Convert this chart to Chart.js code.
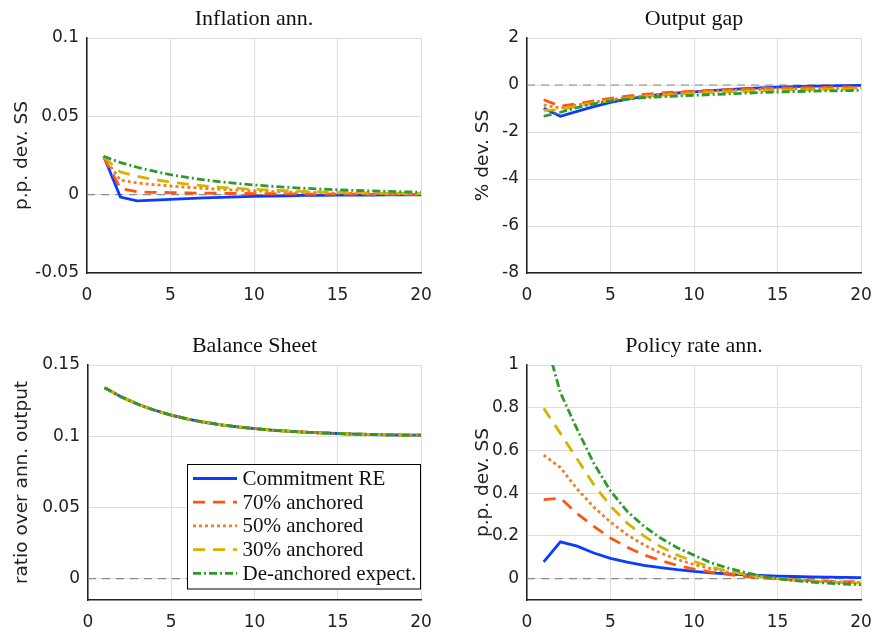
<!DOCTYPE html>
<html>
<head>
<meta charset="utf-8">
<script src="https://cdn.jsdelivr.net/npm/chart.js@4.4.1/dist/chart.umd.min.js"></script>
<style>
  html, body { margin: 0; padding: 0; background: #fff; }
  #wrap { position: relative; width: 875px; height: 630px; overflow: hidden; }
  canvas { position: absolute; }
</style>
</head>
<body>
<div id="wrap">
  <canvas id="cInfl" width="437" height="315" style="left:0;top:0"></canvas>
  <canvas id="cGap" width="410" height="315" style="left:465px;top:0"></canvas>
  <canvas id="cBs" width="437" height="315" style="left:0;top:315px"></canvas>
  <canvas id="cRate" width="410" height="315" style="left:465px;top:315px"></canvas>
</div>
<script>
// quarters after the shock
const periods = [1, 2, 3, 4, 5, 6, 7, 8, 9, 10, 11, 12, 13, 14, 15, 16, 17, 18, 19, 20];

const seriesNames = ["Commitment RE", "70% anchored", "50% anchored", "30% anchored", "De-anchored expect."];

// Inflation ann. (p.p. dev. SS)
const inflRE   = [0.0245, -0.0015, -0.004, -0.0035, -0.003, -0.0025, -0.002, -0.0017, -0.0014, -0.0011, -0.0009, -0.0007, -0.0005, -0.0004, -0.0003, -0.0002, -0.0002, -0.0001, -0.0001, -0.0001];
const infl70   = [0.024, 0.004, 0.0018, 0.0015, 0.0013, 0.0011, 0.001, 0.0009, 0.0008, 0.0007, 0.0006, 0.0005, 0.0004, 0.0004, 0.0003, 0.0003, 0.0002, 0.0002, 0.0002, 0.0001];
const infl50   = [0.024, 0.0092, 0.0075, 0.0064, 0.0055, 0.0047, 0.004, 0.0034, 0.0029, 0.0024, 0.002, 0.0017, 0.0014, 0.0012, 0.001, 0.0008, 0.0007, 0.0006, 0.0005, 0.0004];
const infl30   = [0.024, 0.0145, 0.0118, 0.0097, 0.008, 0.0067, 0.0056, 0.0047, 0.004, 0.0034, 0.0029, 0.0025, 0.0021, 0.0018, 0.0015, 0.0013, 0.0011, 0.0009, 0.0008, 0.0007];
const inflDe   = [0.0245, 0.0205, 0.0175, 0.015, 0.0128, 0.011, 0.0095, 0.0082, 0.0071, 0.0062, 0.0054, 0.0047, 0.0041, 0.0036, 0.0031, 0.0027, 0.0024, 0.0021, 0.0018, 0.0016];

// Output gap (% dev. SS)
const gapRE    = [-0.99, -1.33, -1.12, -0.92, -0.74, -0.6, -0.49, -0.4, -0.34, -0.29, -0.24, -0.2, -0.16, -0.12, -0.09, -0.07, -0.05, -0.04, -0.03, -0.02];
const gap70    = [-0.63, -0.9, -0.8, -0.68, -0.57, -0.47, -0.4, -0.34, -0.3, -0.26, -0.23, -0.2, -0.17, -0.15, -0.13, -0.12, -0.11, -0.1, -0.095, -0.09];
const gap50    = [-0.85, -0.98, -0.85, -0.73, -0.62, -0.53, -0.46, -0.4, -0.35, -0.31, -0.27, -0.24, -0.21, -0.19, -0.17, -0.16, -0.15, -0.14, -0.13, -0.12];
const gap30    = [-1.08, -1.05, -0.9, -0.77, -0.66, -0.57, -0.5, -0.44, -0.4, -0.36, -0.32, -0.29, -0.27, -0.25, -0.23, -0.21, -0.2, -0.19, -0.18, -0.17];
const gapDe    = [-1.33, -1.16, -0.96, -0.8, -0.68, -0.6, -0.54, -0.5, -0.47, -0.44, -0.41, -0.38, -0.35, -0.32, -0.3, -0.28, -0.26, -0.25, -0.24, -0.23];

// Balance Sheet (ratio over ann. output) - the five scenarios coincide
const bsAll    = [0.134, 0.1276, 0.1224, 0.1182, 0.1148, 0.112, 0.1098, 0.108, 0.1065, 0.1053, 0.1043, 0.1035, 0.1028, 0.1023, 0.1019, 0.1015, 0.1012, 0.101, 0.1008, 0.1007];

// Policy rate ann. (p.p. dev. SS)
const rateRE   = [0.078, 0.172, 0.152, 0.12, 0.095, 0.077, 0.0625, 0.052, 0.042, 0.034, 0.027, 0.022, 0.018, 0.015, 0.012, 0.01, 0.008, 0.007, 0.006, 0.005];
const rate70   = [0.37, 0.377, 0.305, 0.245, 0.19, 0.147, 0.111, 0.085, 0.062, 0.045, 0.031, 0.02, 0.011, 0.004, -0.002, -0.006, -0.009, -0.012, -0.014, -0.015];
const rate50   = [0.578, 0.52, 0.42, 0.335, 0.265, 0.205, 0.158, 0.12, 0.09, 0.066, 0.047, 0.031, 0.019, 0.009, 0.001, -0.005, -0.01, -0.013, -0.016, -0.018];
const rate30   = [0.797, 0.68, 0.56, 0.44, 0.34, 0.26, 0.2, 0.15, 0.11, 0.08, 0.055, 0.036, 0.021, 0.009, 0.0, -0.007, -0.012, -0.016, -0.019, -0.021];
const rateDe   = [1.15, 0.87, 0.7, 0.54, 0.41, 0.315, 0.245, 0.19, 0.145, 0.11, 0.075, 0.05, 0.03, 0.013, 0.0, -0.009, -0.016, -0.021, -0.025, -0.028];

const STYLES = [
    { color: "#0a3cff", dash: [] },
    { color: "#ff5511", dash: [12, 8] },
    { color: "#ee8020", dash: [3, 3] },
    { color: "#d6b300", dash: [12, 8] },
    { color: "#2e9a2e", dash: [8, 3, 2, 3] },
];

const SANS = '"DejaVu Sans", "Liberation Sans", sans-serif';
const SERIF = '"Liberation Serif", "Times New Roman", serif';

function makeDatasets(seriesList) {
    return seriesList.map((vals, i) => ({
        label: seriesNames[i],
        data: periods.map((p, k) => ({ x: p, y: vals[k] })),
        borderColor: STYLES[i].color,
        borderDash: STYLES[i].dash,
        borderWidth: 2.8,
        pointRadius: 0,
        fill: false,
        tension: 0,
        order: 5 - i,
    }));
}

const fmt = (v) => String(Number(v.toFixed(4)));

// title, dashed zero line, optional legend box
const panelPlugin = {
    id: "panel",
    beforeDatasetsDraw(chart) {
        const { ctx, chartArea } = chart;
        const y0 = chart.scales.y.getPixelForValue(0);
        ctx.save();
        ctx.strokeStyle = "#8a8a8a";
        ctx.lineWidth = 1.2;
        ctx.setLineDash([8, 6]);
        ctx.beginPath();
        ctx.moveTo(chartArea.left, y0);
        ctx.lineTo(chartArea.right, y0);
        ctx.stroke();
        ctx.restore();
    },
    afterDraw(chart, args, opts) {
        const { ctx, chartArea } = chart;
        ctx.save();
        ctx.fillStyle = "#111";
        ctx.font = "22px " + SERIF;
        ctx.textAlign = "center";
        ctx.textBaseline = "alphabetic";
        ctx.fillText(opts.title, (chartArea.left + chartArea.right) / 2, chartArea.top - 13);
        if (opts.legend) {
            const box = { l: 187.5, t: 149.5, r: 420.5, b: 274 };
            ctx.fillStyle = "#fff";
            ctx.fillRect(box.l, box.t, box.r - box.l, box.b - box.t);
            ctx.strokeStyle = "#000";
            ctx.lineWidth = 1;
            ctx.strokeRect(box.l, box.t, box.r - box.l, box.b - box.t);
            ctx.font = "21px " + SERIF;
            ctx.textAlign = "left";
            ctx.textBaseline = "middle";
            chart.data.datasets.forEach((ds, i) => {
                const y = 163.5 + i * 23.7;
                ctx.strokeStyle = ds.borderColor;
                ctx.lineWidth = 2.8;
                ctx.setLineDash(ds.borderDash);
                ctx.beginPath();
                ctx.moveTo(193, y);
                ctx.lineTo(237, y);
                ctx.stroke();
                ctx.setLineDash([]);
                ctx.fillStyle = "#111";
                ctx.fillText(ds.label, 242.5, y + 1);
            });
        }
        ctx.restore();
    },
};

function makePanel(id, cfg) {
    const canvas = document.getElementById(id);
    return new Chart(canvas.getContext("2d"), {
        type: "line",
        data: { datasets: makeDatasets(cfg.series) },
        options: {
            responsive: false,
            animation: false,
            layout: { padding: { top: cfg.padTop, right: cfg.padRight, left: 0, bottom: 0 } },
            scales: {
                x: {
                    type: "linear",
                    min: 0,
                    max: 20,
                    afterFit: (s) => {
                        s.height = cfg.xHeight;
                        s.paddingLeft = 0;
                        s.paddingRight = 0;
                    },
                    ticks: { stepSize: 5, padding: 12, color: "#222", font: { family: SANS, size: 17 } },
                    grid: { color: "#dedede", lineWidth: 1, drawTicks: false },
                    border: { display: true, color: "#222", width: 1.5 },
                },
                y: {
                    min: cfg.yMin,
                    max: cfg.yMax,
                    afterFit: (s) => { s.width = cfg.yWidth; },
                    ticks: {
                        stepSize: cfg.yStep,
                        includeBounds: false,
                        padding: 8,
                        color: "#222",
                        font: { family: SANS, size: 17 },
                        callback: (v) => fmt(v),
                    },
                    grid: { color: "#dedede", lineWidth: 1, drawTicks: false },
                    border: { display: true, color: "#222", width: 1.5 },
                    title: {
                        display: true,
                        text: cfg.yTitle,
                        color: "#222",
                        font: { family: SANS, size: 18.5 },
                        padding: { top: cfg.titlePad, bottom: 0 },
                    },
                },
            },
            plugins: {
                legend: { display: false },
                tooltip: { enabled: false },
                panel: { title: cfg.title, legend: !!cfg.legend },
            },
        },
        plugins: [panelPlugin],
    });
}

makePanel("cInfl", {
    title: "Inflation ann.", yTitle: "p.p. dev. SS",
    series: [inflRE, infl70, infl50, infl30, inflDe],
    yMin: -0.05, yMax: 0.1, yStep: 0.05,
    padTop: 38, padRight: 16, yWidth: 87, xHeight: 42, titlePad: 11,
});

makePanel("cGap", {
    title: "Output gap", yTitle: "% dev. SS",
    series: [gapRE, gap70, gap50, gap30, gapDe],
    yMin: -8, yMax: 2, yStep: 2,
    padTop: 38, padRight: 14, yWidth: 62, xHeight: 42, titlePad: 7,
});

makePanel("cBs", {
    title: "Balance Sheet", yTitle: "ratio over ann. output",
    series: [bsAll, bsAll, bsAll, bsAll, bsAll],
    yMin: -0.015, yMax: 0.15, yStep: 0.05,
    padTop: 50, padRight: 16, yWidth: 88, xHeight: 30, titlePad: 11,
    legend: true,
});

makePanel("cRate", {
    title: "Policy rate ann.", yTitle: "p.p. dev. SS",
    series: [rateRE, rate70, rate50, rate30, rateDe],
    yMin: -0.1, yMax: 1, yStep: 0.2,
    padTop: 50, padRight: 14, yWidth: 62, xHeight: 30, titlePad: 7,
});
</script>
</body>
</html>
